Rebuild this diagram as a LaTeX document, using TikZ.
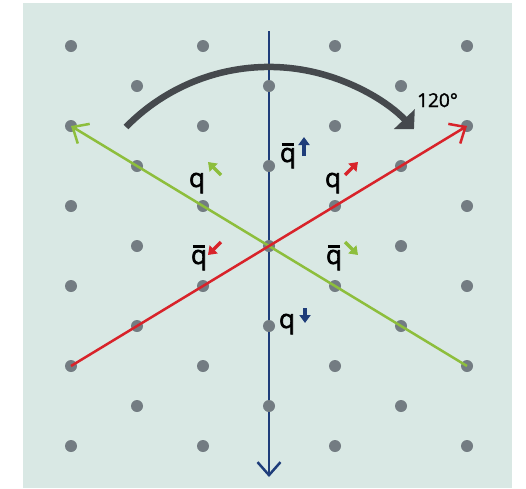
\documentclass[tikz,border=0pt]{standalone}
\usepackage{fontspec}
\setmainfont{Open Sans}
\newfontfamily\lblfont{Open Sans}[FakeBold=1.6]
\newfontfamily\qfont{Open Sans}[FakeBold=2.2]
\usetikzlibrary{arrows.meta}
\definecolor{bgc}{HTML}{D9E8E4}
\definecolor{dotc}{HTML}{737C82}
\definecolor{bluec}{HTML}{1F3D7A}
\definecolor{redc}{HTML}{D8232A}
\definecolor{greenc}{HTML}{8DBE3C}
\definecolor{arcc}{HTML}{45494D}
\newcommand\qbarsym{\setbox0\hbox{q}\hbox{\rlap{\hbox to \wd0{\hss\vrule width 0.78\wd0 height 19.3pt depth -16.4pt\hss}}q}}
\tikzset{
  latdot/.style={circle,fill=dotc,inner sep=0pt,minimum size=12pt},
  axisline/.style={line width=2.5pt,-{Straight Barb[length=13pt,width=23pt]}},
  spinarrow/.style={line width=3.5pt,-{Triangle[length=8pt,width=11pt]}},
  qlabel/.style={inner sep=0pt,anchor=base,font=\qfont\fontsize{26}{30}\selectfont},
}
\begin{document}
\begin{tikzpicture}[x=1pt,y=-1pt]
\useasboundingbox (0,0) rectangle (526,488);
\fill[bgc] (23,3) rectangle (512,488);
% blue line below dots
\coordinate (btop) at (269,31);
\coordinate (bbot) at (269,477);
\draw[axisline,bluec] (btop) -- (bbot);
% lattice dots
\foreach \k in {0,...,10}{
  \foreach \j in {0,...,6}{
    \pgfmathtruncatemacro{\parity}{mod(\j+\k,2)}
    \ifnum\parity=0
      \node[latdot] (d-\j-\k) at ({71+66*\j},{46+40*\k}) {};
    \fi
  }
}
% green and red lines
\draw[axisline,greenc] (d-6-8.center) -- (d-0-2.center);
\draw[axisline,redc] (d-0-8.center) -- (d-6-2.center);
% rotation arc
\coordinate (arcstart) at (126,127);
\draw[arcc,line width=6.5pt,-{Triangle[length=14pt,width=28pt]}]
  (arcstart) arc[start angle=-135.6,end angle=-43.5,radius=200];
\node[inner sep=0pt,anchor=base west,font=\lblfont\fontsize{19}{23}\selectfont] (ang) at (417,107) {120°};
% labels
\node[qlabel] (qb1) at (288,162) {\qbarsym};
\node[qlabel] (q1) at (197,187) {q};
\node[qlabel] (q2) at (333,187) {q};
\node[qlabel] (qb2) at (199,264) {\qbarsym};
\node[qlabel] (qb3) at (334,264) {\qbarsym};
\node[qlabel] (q3) at (287,328) {q};
% small spin arrows
\coordinate (s1a) at (304,156); \coordinate (s1b) at (304,137);
\coordinate (s2a) at (221,175); \coordinate (s2b) at (208,162);
\coordinate (s3a) at (345,175); \coordinate (s3b) at (358,162);
\coordinate (s4a) at (221,242); \coordinate (s4b) at (208,255);
\coordinate (s5a) at (345,242); \coordinate (s5b) at (358,255);
\coordinate (s6a) at (305,308); \coordinate (s6b) at (305,323);
\draw[spinarrow,bluec] (s1a) -- (s1b);
\draw[spinarrow,greenc] (s2a) -- (s2b);
\draw[spinarrow,redc] (s3a) -- (s3b);
\draw[spinarrow,redc] (s4a) -- (s4b);
\draw[spinarrow,greenc] (s5a) -- (s5b);
\draw[spinarrow,bluec] (s6a) -- (s6b);
\end{tikzpicture}
\end{document}
